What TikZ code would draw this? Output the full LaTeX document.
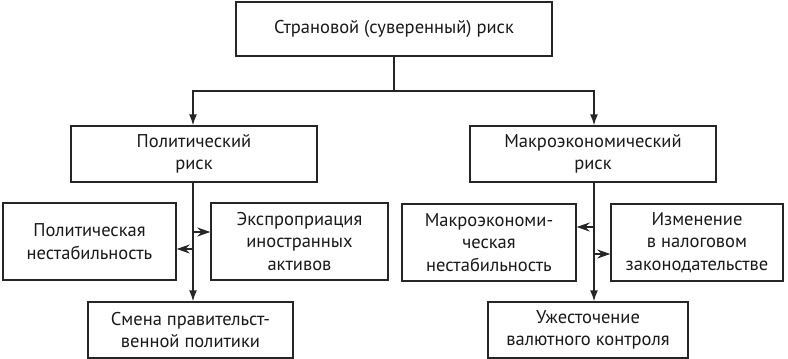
\documentclass[tikz,border=0pt]{standalone}
\usepackage{fontspec}
\setmainfont{PT Sans}
\usetikzlibrary{arrows.meta}
\begin{document}
\begin{tikzpicture}[x=1pt,y=-1pt,
  box/.style={draw=black!85,line width=1.4pt,rectangle,inner sep=2pt,align=center,
    text=black!90,font=\fontsize{18.5}{22.5}\selectfont},
  line/.style={draw=black!85,line width=1.4pt},
  arr/.style={line,-{Latex[length=11pt,width=8pt]}},
  sarr/.style={line,-{Stealth[length=13pt,width=9pt]}}]
\useasboundingbox (0,0) rectangle (788,359);
\node[box,minimum width=316pt,minimum height=54pt] (top) at (394,29) {Страновой (суверенный) риск};
\node[box,minimum width=246pt,minimum height=56pt] (pol) at (194,154) {Политический\\риск};
\node[box,minimum width=246pt,minimum height=56pt] (mac) at (593,154) {Макроэкономический\\риск};
\node[box,minimum width=173pt,minimum height=77pt] (pi) at (89.5,241.5) {Политическая\\нестабильность};
\node[box,minimum width=177pt,minimum height=77pt] (exp) at (299.5,241.5) {Экспроприация\\иностранных\\активов};
\node[box,minimum width=205pt,minimum height=56pt] (sm) at (190.5,330) {Смена правительст-\\венной политики};
\node[box,minimum width=174pt,minimum height=77pt] (mi) at (489,242.5) {Макроэкономи-\\ческая\\нестабильность};
\node[box,minimum width=172pt,minimum height=77pt] (iz) at (697,242.5) {Изменение\\в налоговом\\законодательстве};
\node[box,minimum width=200pt,minimum height=56pt] (uz) at (588,330) {Ужесточение\\валютного контроля};
\coordinate (hl) at (193,91);
\coordinate (hr) at (594,91);
\draw[line] (top.south) -- (top.south |- hl);
\draw[arr] (hl -| top.south) -- (hl) -- (hl |- pol.north);
\draw[arr] (hr -| top.south) -- (hr) -- (hr |- mac.north);
% left branch
\draw[arr] (hl |- pol.south) -- (hl |- sm.north);
\draw[sarr] (193,232) -- (exp.west |- 0,232);
\draw[sarr] (193,249) -- (pi.east |- 0,249);
% right branch
\draw[arr] (hr |- mac.south) -- (hr |- uz.north);
\draw[sarr] (594,227) -- (mi.east |- 0,227);
\draw[sarr] (594,254) -- (iz.west |- 0,254);
\end{tikzpicture}
\end{document}
